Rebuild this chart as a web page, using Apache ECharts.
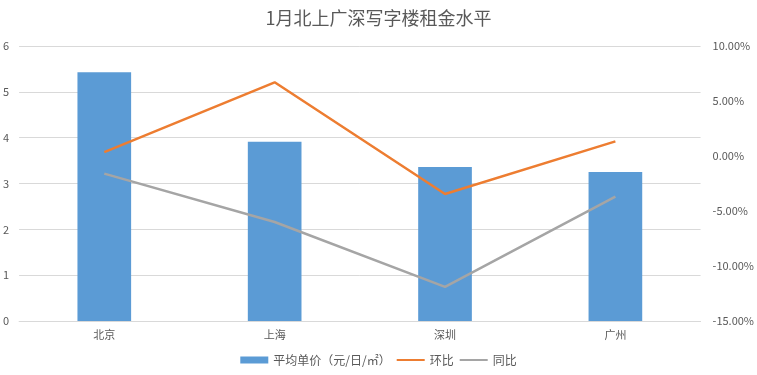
<!DOCTYPE html>
<html><head><meta charset="utf-8">
<script src="https://cdn.jsdelivr.net/npm/echarts@6/dist/echarts.min.js"></script>
<style>html,body{margin:0;padding:0;background:#fff}#c{width:757px;height:375px}</style>
</head><body><div id="c"></div>
<script>
const categories = ['北京','上海','深圳','广州'];
const avgPrice = [5.43, 3.91, 3.36, 3.25];
const momChange = [0.36, 6.7, -3.45, 1.33];
const yoyChange = [-1.6, -6.0, -11.9, -3.7];
const leftTicks = [0, 6, 1];
const rightTicks = [-15, 10, 5];

const font = '"Noto Sans CJK SC", "Noto Sans", sans-serif';
const chart = echarts.init(document.getElementById('c'));
chart.setOption({
  animation: false,
  textStyle: {fontFamily: font},
  title: {text: '1月北上广深写字楼租金水平', left: 'center', top: 4,
    textStyle: {fontSize: 18, fontWeight: 'normal', color: '#595959', fontFamily: font}},
  grid: {left: 17, right: 54, top: 46, bottom: 54, containLabel: false},
  legend: {bottom: 4, left: 'center', itemGap: 5, itemWidth: 28, itemHeight: 7,
    textStyle: {fontSize: 12, color: '#595959', fontFamily: font},
    data: [{name: '平均单价（元/日/㎡）', icon: 'rect'},
           {name: '环比', itemStyle: {opacity: 0}},
           {name: '同比', itemStyle: {opacity: 0}}]},
  xAxis: {type: 'category', data: categories,
    axisLine: {lineStyle: {color: '#D9D9D9'}}, axisTick: {show: false},
    axisLabel: {color: '#595959', fontSize: 11, margin: 8}},
  yAxis: [
    {type: 'value', min: leftTicks[0], max: leftTicks[1], interval: leftTicks[2], position: 'left',
     axisLabel: {color: '#595959', fontSize: 11, margin: 10},
     splitLine: {lineStyle: {color: '#D9D9D9'}}, axisLine: {show: false}, axisTick: {show: false}},
    {type: 'value', min: rightTicks[0], max: rightTicks[1], interval: rightTicks[2], position: 'right',
     axisLabel: {color: '#595959', fontSize: 11, margin: 12, formatter: v => v.toFixed(2) + '%'},
     splitLine: {show: false}, axisLine: {show: false}, axisTick: {show: false}}
  ],
  series: [
    {name: '平均单价（元/日/㎡）', type: 'bar', data: avgPrice, barWidth: '31.5%',
     itemStyle: {color: '#5B9BD5'}},
    {name: '环比', type: 'line', yAxisIndex: 1, data: momChange, symbol: 'none',
     lineStyle: {color: '#ED7D31', width: 2.5}, itemStyle: {color: '#ED7D31'}},
    {name: '同比', type: 'line', yAxisIndex: 1, data: yoyChange, symbol: 'none',
     lineStyle: {color: '#A5A5A5', width: 2.5}, itemStyle: {color: '#A5A5A5'}}
  ]
});
</script></body></html>
